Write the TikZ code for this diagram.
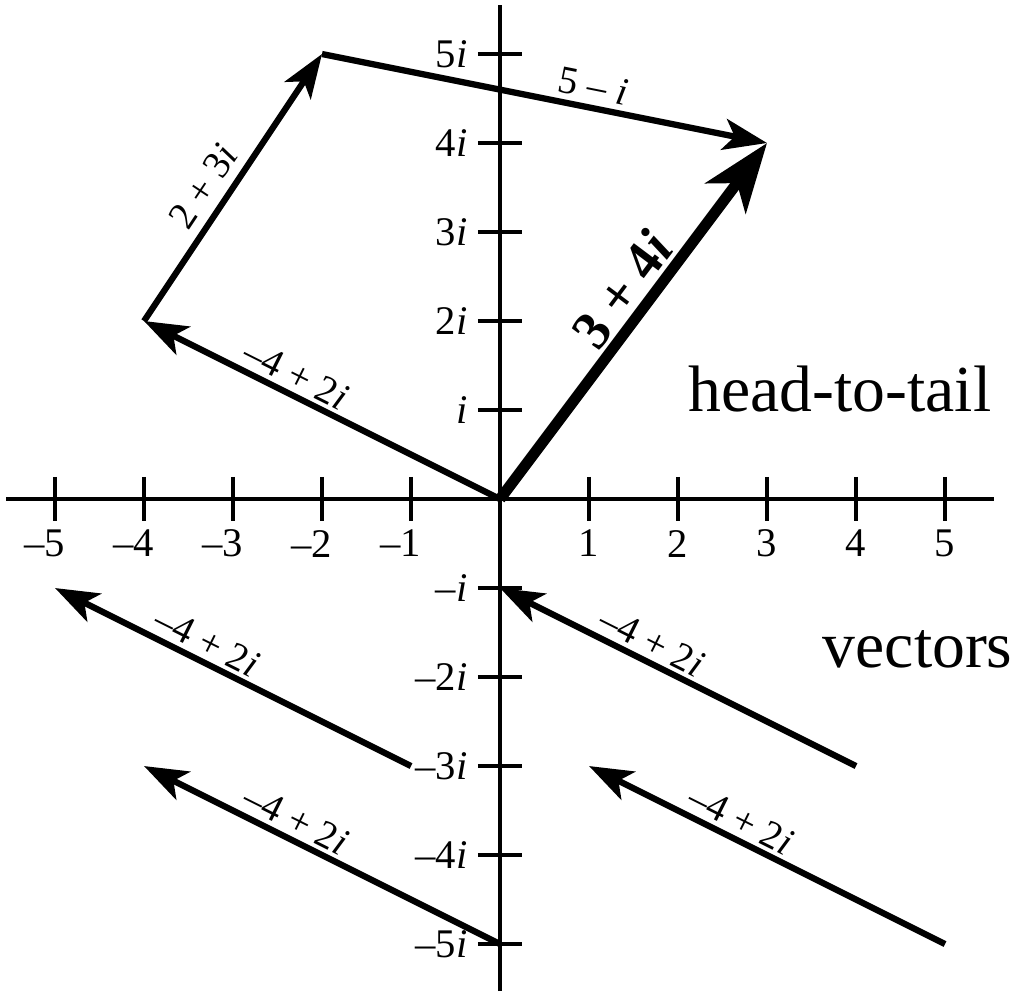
\documentclass[tikz,border=0pt]{standalone}
\usepackage{fontspec}
\setmainfont{Liberation Serif}
\usetikzlibrary{arrows.meta}
\begin{document}
\begin{tikzpicture}[
  axis/.style={line width=1pt},
  vec/.style={line width=2pt, -{Stealth[length=14pt,width=10pt,inset=3.5pt]}},
  bigvec/.style={line width=3.5pt, -{Stealth[length=22pt,width=16pt,inset=6pt]}},
  vlab/.style={font=\fontsize{12.5}{14}\selectfont, inner sep=0pt},
  tlab/.style={font=\fontsize{13}{15}\selectfont, inner sep=0pt},
  blab/.style={font=\bfseries\fontsize{17.5}{20}\selectfont, inner sep=0pt},
  big/.style={font=\fontsize{21}{25}\selectfont, inner sep=0pt, anchor=base west}
]
\useasboundingbox (-5.618,-5.539) rectangle (5.775,5.607);
% axes
\coordinate (xl) at (-5.55,0); \coordinate (xr) at (5.55,0);
\coordinate (yb) at (0,-5.53); \coordinate (yt) at (0,5.55);
\draw[axis] (xl) -- (xr);
\draw[axis] (yb) -- (yt);
\foreach \k in {1,...,5}{
  \draw[axis] (\k,0.25) -- (\k,-0.25);
  \draw[axis] (-\k,0.25) -- (-\k,-0.25);
  \draw[axis] (-0.25,\k) -- (0.25,\k);
  \draw[axis] (-0.25,-\k) -- (0.25,-\k);
  \node[tlab] (xp\k) at (\k,-0.50) {\k};
  \node[tlab] (xn\k) at (-\k,-0.50) {\llap{–}\k};
}
\foreach \k in {2,...,5}{
  \node[tlab, anchor=east] (yp\k) at (-0.36,\k) {\k\textit{i}};
  \node[tlab, anchor=east] (yn\k) at (-0.36,-\k) {–\k\textit{i}};
}
\node[tlab, anchor=east] (yp1) at (-0.36,1) {\textit{i}};
\node[tlab, anchor=east] (yn1) at (-0.36,-1) {–\textit{i}};
% points
\coordinate (O) at (0,0);
\coordinate (A) at (-4,2);
\coordinate (B) at (-2,5);
\coordinate (C) at (3,4);
\coordinate (P1) at (-1,-3); \coordinate (Q1) at (-5,-1);
\coordinate (P2) at (0,-5);  \coordinate (Q2) at (-4,-3);
\coordinate (P3) at (4,-3);  \coordinate (Q3) at (0,-1);
\coordinate (P4) at (5,-5);  \coordinate (Q4) at (1,-3);
% head-to-tail
\draw[vec] (O) -- (A);
\draw[vec] (A) -- (B);
\draw[vec] (B) -- (C);
\draw[bigvec] (O) -- (C);
\node[vlab, rotate=-26.57] (l1) at (-2.29,1.40) {–4 + 2\textit{i}};
\node[vlab, rotate=56.31] (l2) at (-3.33,3.51) {2 + 3\textit{i}};
\node[vlab, rotate=-11.31] (l3) at (1.05,4.64) {5 – \textit{i}};
\node[blab, rotate=53.13] (l4) at (1.37,2.35) {3 + 4\textit{i}};
% vectors
\draw[vec] (P1) -- (Q1);
\draw[vec] (P2) -- (Q2);
\draw[vec] (P3) -- (Q3);
\draw[vec] (P4) -- (Q4);
\node[vlab, rotate=-26.57] (l5) at (-3.29,-1.60) {–4 + 2\textit{i}};
\node[vlab, rotate=-26.57] (l6) at (-2.29,-3.60) {–4 + 2\textit{i}};
\node[vlab, rotate=-26.57] (l7) at (1.71,-1.60) {–4 + 2\textit{i}};
\node[vlab, rotate=-26.57] (l8) at (2.71,-3.60) {–4 + 2\textit{i}};
% titles
\node[big] (t1) at (2.11,0.98) {head-to-tail};
\node[big] (t2) at (3.62,-1.89) {vectors};
\end{tikzpicture}
\end{document}
